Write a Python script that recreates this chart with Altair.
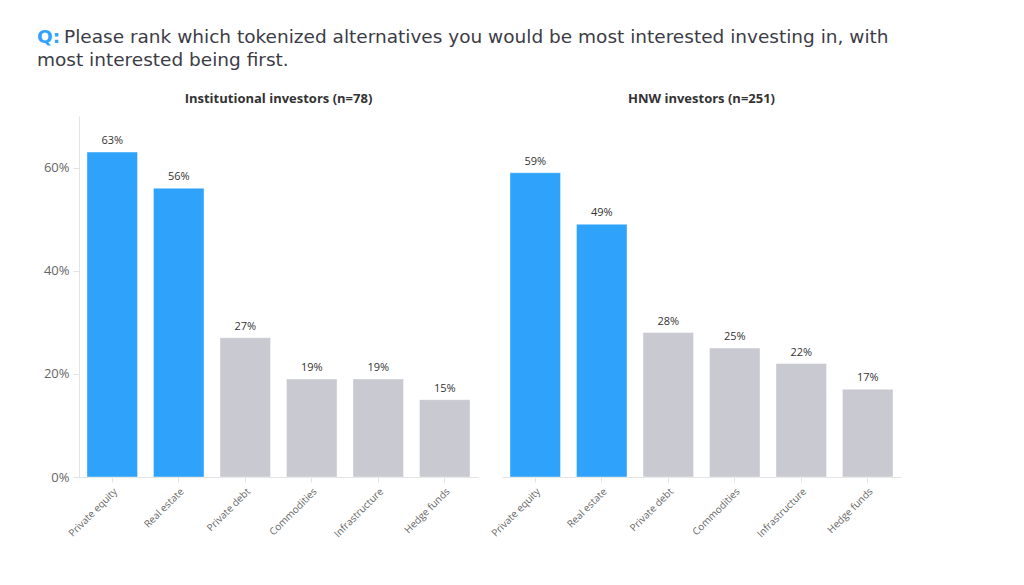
import altair as alt
import pandas as pd

categories = ["Private equity", "Real estate", "Private debt", "Commodities", "Infrastructure", "Hedge funds"]
institutional = [63, 56, 27, 19, 19, 15]
hnw = [59, 49, 28, 25, 22, 17]
highlight = ["yes", "yes", "no", "no", "no", "no"]

title_q = "Q:"
title_line1 = "Please rank which tokenized alternatives you would be most interested investing in, with"
title_line2 = "most interested being first."
panel_titles = ["Institutional investors (n=78)", "HNW investors (n=251)"]

BLUE = "#2fa3fc"
GRAY = "#c9c9d1"
FONT = "Open Sans"
TFONT = "DejaVu Sans"
W, H = 399, 361


def panel(values, title, show_y, with_title=False):
    df = pd.DataFrame({"category": categories, "value": values, "hl": highlight,
                       "label": [f"{v}%" for v in values]})
    x = alt.X("category:N", sort=categories,
              scale=alt.Scale(paddingInner=0.24, paddingOuter=0.12),
              axis=alt.Axis(title=None, labelAngle=-45, labelFontSize=10, labelColor="#666",
                            labelFont=FONT, domainColor="#e3e3e3", tickColor="#e3e3e3",
                            tickSize=5, labelPadding=4))
    if show_y:
        yaxis = alt.Axis(title=None, values=[0, 20, 40, 60], labelExpr="datum.value + '%'",
                         grid=False, labelFontSize=13, labelColor="#666", labelFont=FONT,
                         domainColor="#e3e3e3", tickColor="#e3e3e3", tickSize=6, labelPadding=4)
    else:
        yaxis = None
    y = alt.Y("value:Q", scale=alt.Scale(domain=[0, 70], nice=False), axis=yaxis)
    base = alt.Chart(df)
    bars = base.mark_bar(stroke="#ffffff", strokeOpacity=0.4, strokeWidth=1).encode(
        x=x, y=y,
        color=alt.Color("hl:N", scale=alt.Scale(domain=["yes", "no"], range=[BLUE, GRAY]), legend=None))
    labels = base.mark_text(dy=-11, fontSize=11, color="#333", font=FONT).encode(
        x=x, y=y, text="label:N")
    tdf = pd.DataFrame({"q": [title_q], "l1": [title_line1], "l2": [title_line2], "pt": [title]})
    tb = alt.Chart(tdf)
    ptitle = tb.mark_text(align="center", baseline="alphabetic", fontSize=13, fontWeight="bold",
                          color="#333", font=FONT).encode(
        x=alt.value(W / 2), y=alt.value(-13), text="pt:N")
    layers = [bars, labels, ptitle]
    if with_title:
        layers.append(tb.mark_text(align="left", baseline="alphabetic", fontSize=18.5,
                                   fontWeight="bold", color=BLUE, font=TFONT).encode(
            x=alt.value(-42), y=alt.value(-73), text="q:N"))
        layers.append(tb.mark_text(align="left", baseline="alphabetic", fontSize=18.5,
                                   color="#3c3c46", font=TFONT).encode(
            x=alt.value(-15), y=alt.value(-73), text="l1:N"))
        layers.append(tb.mark_text(align="left", baseline="alphabetic", fontSize=18.5,
                                   color="#3c3c46", font=TFONT).encode(
            x=alt.value(-42), y=alt.value(-50), text="l2:N"))
    return alt.layer(*layers).properties(width=W, height=H)


left = panel(institutional, panel_titles[0], True, with_title=True)
right = panel(hnw, panel_titles[1], False)

chart = alt.hconcat(left, right, spacing=24, bounds="flush").properties(
    padding={"left": 29, "top": 20, "right": 5, "bottom": 5}
).configure_view(stroke=None)

chart.save("out.html", embed_options={"renderer": "svg", "actions": False})
